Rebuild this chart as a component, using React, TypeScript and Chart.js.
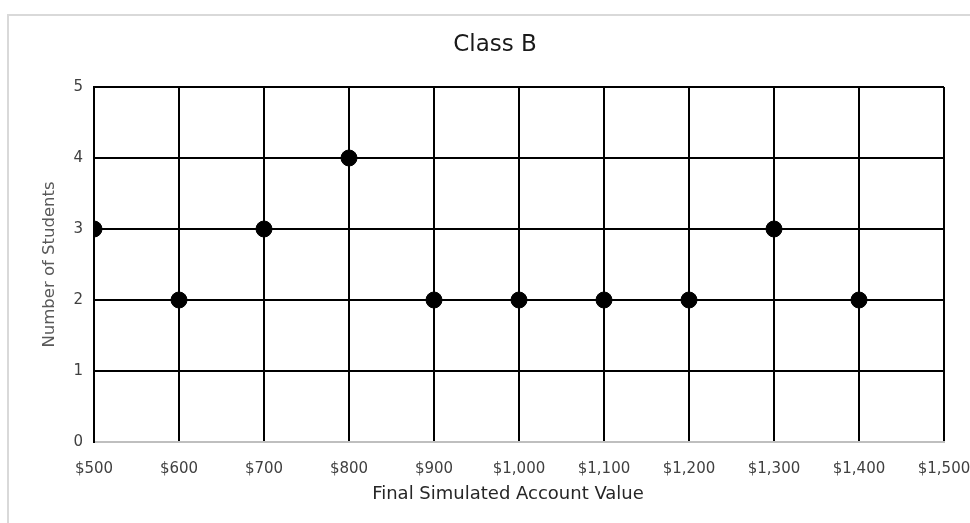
import React, { useEffect, useRef } from "react";
import { Chart, registerables } from "chart.js";

Chart.register(...registerables);

const titleText = "Class B";
const xAxisTitle = "Final Simulated Account Value";
const yAxisTitle = "Number of Students";
const accountValues = [500, 600, 700, 800, 900, 1000, 1100, 1200, 1300, 1400];
const studentCounts = [3, 2, 3, 4, 2, 2, 2, 2, 3, 2];
const xMin = 500;
const xMax = 1500;
const xStep = 100;
const yMin = 0;
const yMax = 5;
const yStep = 1;

const FONT = "'DejaVu Sans', 'Open Sans', sans-serif";

const textPlugin = {
  id: "customTexts",
  afterDraw(chart: any) {
    const ctx = chart.ctx;
    ctx.save();
    ctx.textAlign = "center";
    ctx.textBaseline = "middle";
    ctx.font = `23px ${FONT}`;
    ctx.fillStyle = "#1a1a1a";
    ctx.fillText(titleText, 495, 45);
    ctx.font = `18px ${FONT}`;
    ctx.fillStyle = "#262626";
    ctx.fillText(xAxisTitle, 508, 494);
    ctx.restore();
  },
};

export default function App() {
  const ref = useRef<HTMLCanvasElement | null>(null);
  useEffect(() => {
    if (!ref.current) return;
    const chart = new Chart(ref.current, {
      type: "scatter",
      data: {
        datasets: [
          {
            data: accountValues.map((x, i) => ({ x, y: studentCounts[i] })),
            backgroundColor: "#000000",
            borderColor: "#000000",
            pointRadius: 8,
            pointHoverRadius: 8,
            showLine: false,
          },
        ],
      },
      options: {
        animation: false,
        responsive: false,
        maintainAspectRatio: false,
        layout: { padding: { top: 87, left: 0, right: 56, bottom: 10 } },
        plugins: {
          legend: { display: false },
          title: { display: false },
          tooltip: { enabled: false },
        },
        scales: {
          x: {
            type: "linear",
            min: xMin,
            max: xMax,
            ticks: {
              stepSize: xStep,
              padding: 18,
              color: "#404040",
              font: { family: FONT, size: 15 },
              callback: (v: any) => "$" + Number(v).toLocaleString("en-US"),
              maxRotation: 0,
              autoSkip: false,
            },
            grid: { color: "#000000", lineWidth: 2, drawTicks: false },
            border: { color: "#bfbfbf", width: 2 },
            title: { display: false, text: xAxisTitle },
            afterFit: (s: any) => {
              s.height = 71;
            },
          },
          y: {
            type: "linear",
            min: yMin,
            max: yMax,
            ticks: {
              stepSize: yStep,
              padding: 11,
              color: "#404040",
              font: { family: FONT, size: 15 },
            },
            grid: {
              color: (c: any) => (c.tick && c.tick.value === 0 ? "#bfbfbf" : "#000000"),
              lineWidth: 2,
              drawTicks: false,
            },
            border: { color: "#000000", width: 2 },
            title: {
              display: true,
              text: yAxisTitle,
              color: "#595959",
              font: { family: FONT, size: 16.5 },
              padding: { top: 40, bottom: 0 },
            },
            afterFit: (s: any) => {
              s.width = 94;
            },
          },
        },
      },
      plugins: [textPlugin],
    });
    return () => chart.destroy();
  }, []);
  return (
    <div
      style={{
        position: "fixed",
        left: 0,
        top: 0,
        width: 970,
        height: 523,
        overflow: "hidden",
        background: "#ffffff",
      }}
    >
      <div
        style={{
          position: "absolute",
          left: 7,
          top: 14,
          width: 2000,
          height: 2000,
          borderLeft: "2px solid #d9d9d9",
          borderTop: "2px solid #d9d9d9",
        }}
      />
      <canvas
        ref={ref}
        width={1000}
        height={523}
        style={{ position: "absolute", left: 0, top: 0, width: 1000, height: 523 }}
      />
    </div>
  );
}
